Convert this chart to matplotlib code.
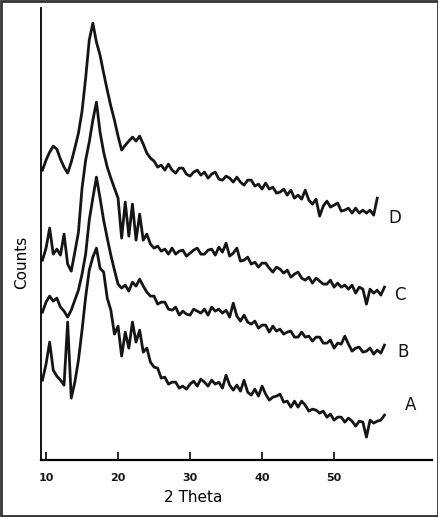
import numpy as np
import matplotlib
matplotlib.use("Agg")
import matplotlib.pyplot as plt
from matplotlib.patches import Rectangle

# 2-theta sampling grid (degrees), shared by all four patterns
two_theta = np.arange(9.5, 57.01, 0.5)

# counts (arbitrary units, patterns already stacked)
counts_d = [290, 300, 308, 314, 311, 301, 293, 287, 298, 312,
            327, 349, 382, 420, 437, 418, 405, 387, 370, 354,
            340, 324, 310, 315, 319, 323, 319, 324, 316, 307,
            302,
            299, 293, 295, 290, 296, 290, 287, 292, 292, 286,
            284, 288, 290, 285, 288, 282, 286, 288, 281, 280,
            284, 282, 278, 283, 278, 275, 280, 280, 274, 276,
            271, 277, 271, 273, 267, 268, 271, 265, 270, 262,
            265, 261, 270, 260, 256, 261, 244, 254, 259, 253,
            255, 257, 249, 250, 252, 247, 252, 247, 250, 247,
            250, 245, 262, np.nan, np.nan]

counts_c = [200, 212, 232, 206, 211, 205, 226, 196, 189, 208,
            228, 272, 300, 318, 340, 358, 328, 308, 293, 282,
            272, 262, 222, 258, 224, 256, 220, 246, 220, 226,
            216,
            212, 214, 209, 211, 206, 212, 206, 209, 210, 204,
            207, 210, 212, 206, 206, 210, 211, 205, 213, 208,
            217, 204, 207, 212, 199, 200, 203, 196, 198, 193,
            197, 197, 192, 188, 193, 191, 187, 190, 183, 186,
            188, 182, 180, 183, 177, 182, 179, 176, 176, 180,
            173, 177, 173, 175, 171, 175, 167, 173, 171, 156,
            171, 167, 170, 165, 173]

counts_b = [148, 158, 164, 159, 162, 153, 149, 143, 150, 160,
            170, 186, 206, 240, 262, 283, 262, 240, 222, 205,
            190, 176, 172, 175, 169, 178, 174, 181, 174, 168,
            164,
            164, 156, 158, 158, 151, 150, 153, 145, 149, 146,
            145, 151, 149, 147, 151, 145, 153, 149, 151, 147,
            150, 143, 157, 144, 139, 145, 138, 136, 139, 132,
            135, 135, 128, 134, 129, 131, 126, 128, 129, 123,
            123, 128, 123, 124, 119, 123, 123, 117, 117, 120,
            112, 117, 116, 124, 116, 109, 112, 113, 108, 109,
            112, 106, 110, 107, 115]

counts_a = [80, 96, 118, 90, 84, 80, 75, 138, 62, 78,
            100, 130, 163, 190, 203, 212, 192, 188, 162, 150,
            126, 134, 104, 128, 112, 138, 118, 130, 108, 112,
            98,
            93, 92, 82, 83, 76, 78, 78, 72, 74, 71,
            76, 79, 74, 81, 78, 74, 80, 76, 78, 72,
            85, 75, 70, 75, 69, 80, 68, 65, 71, 64,
            74, 66, 60, 63, 64, 66, 58, 59, 53, 59,
            53, 59, 55, 49, 51, 50, 47, 49, 43, 46,
            40, 43, 43, 38, 42, 39, 34, 39, 38, 23,
            40, 37, 39, 40, 45]

labels = ["D", "C", "B", "A"]
label_x = [58.5, 59.2, 59.6, 60.6]
label_y = [242, 165, 108, 55]

fig = plt.figure(figsize=(4.39, 5.17), dpi=100)
ax = fig.add_axes([0.0934, 0.110, 0.8906, 0.8743])

for c in (counts_d, counts_c, counts_b, counts_a):
    ax.plot(two_theta, c, color="#151515", lw=2.0)

for lab, lx, ly in zip(labels, label_x, label_y):
    ax.text(lx, ly, lab, fontsize=12, ha="center", va="center", color="#151515")

ax.set_xlim(9.3, 63.6)
ax.set_ylim(0, 452)
ax.set_xticks([10, 20, 30, 40, 50])
ax.set_yticks([])
ax.tick_params(axis="x", direction="in", length=6, width=1.3, pad=9,
               labelsize=8, colors="#151515")
for t in ax.get_xticklabels():
    t.set_fontweight("bold")
for s in ("top", "right"):
    ax.spines[s].set_visible(False)
ax.spines["left"].set_linewidth(1.3)
ax.spines["bottom"].set_linewidth(1.6)

fig.text(193 / 439, 1 - 497 / 517, "2 Theta", fontsize=11, ha="center", va="center")
fig.text(22 / 439, 1 - 262 / 517, "Counts", fontsize=11, rotation=90,
         ha="center", va="center")

# thin frame round the whole picture
fig.patches.append(Rectangle((0.002, 0.002), 0.996, 0.996, transform=fig.transFigure,
                             fill=False, edgecolor="#333333", lw=2))

fig.savefig("out.png", dpi=100)
